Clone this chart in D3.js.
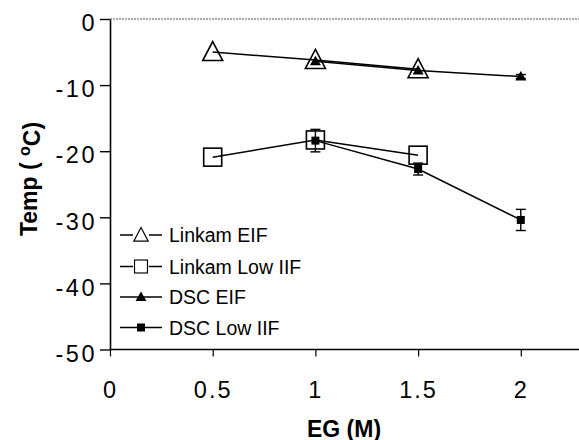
<!DOCTYPE html>
<html>
<head>
<meta charset="utf-8">
<script src="https://cdn.jsdelivr.net/npm/d3@7"></script>
<style>
  body { margin: 0; background: #fff; }
  svg { font-family: "Liberation Sans", Arial, sans-serif; }
</style>
</head>
<body>
<div id="chart"></div>
<script>
// values
var xTicks = [0, 0.5, 1, 1.5, 2];
var xTickLabels = ["0", "0.5", "1", "1.5", "2"];
var yTicks = [0, -10, -20, -30, -40, -50];
var yTickLabels = ["0", "-10", "-20", "-30", "-40", "-50"];

var linkamEIF = [{x: 0.5, y: -5.0}, {x: 1, y: -6.2}, {x: 1.5, y: -7.6}];
var linkamIIF = [{x: 0.5, y: -20.9}, {x: 1, y: -18.3}, {x: 1.5, y: -20.6}];
var dscEIF = [{x: 1, y: -6.4}, {x: 1.5, y: -7.8}, {x: 2, y: -8.7, e: 0.3}];
var dscIIF = [{x: 1, y: -18.4, e: 1.7}, {x: 1.5, y: -22.7, e: 0.9}, {x: 2, y: -30.4, e: 1.6}];

var legendNames = ["Linkam EIF", "Linkam Low IIF", "DSC EIF", "DSC Low IIF"];

var width = 579, height = 440;
var margin = { top: 19, left: 110, bottom: 90.5 };

var svg = d3.select("#chart").append("svg")
    .attr("width", width)
    .attr("height", height);

var x = d3.scaleLinear()
    .domain([0, 2.3])
    .range([margin.left, margin.left + 205.4 * 2.3]);

var y = d3.scaleLinear()
    .domain([-50, 0])
    .range([height - margin.bottom, margin.top]);

// dotted top border
svg.append("line")
    .attr("x1", margin.left).attr("x2", width)
    .attr("y1", y(0)).attr("y2", y(0))
    .attr("stroke", "#555")
    .attr("stroke-width", 1.2)
    .attr("stroke-dasharray", "2,1");

// y axis
var yAxis = svg.append("g")
    .attr("transform", "translate(" + margin.left + ",0)")
    .call(d3.axisLeft(y).tickValues(yTicks)
        .tickFormat(function(d, i) { return yTickLabels[i]; })
        .tickSize(10).tickSizeOuter(0).tickPadding(3));
yAxis.select(".domain").attr("stroke-width", 1.6);
yAxis.selectAll(".tick line").attr("stroke-width", 1.4);
yAxis.selectAll("text")
    .attr("dy", "0.5em")
    .style("font-size", "23.5px")
    .style("letter-spacing", "2.5px")
    .style("font-family", "Liberation Sans, Arial, sans-serif")
    .attr("fill", "#000");

// x axis
var xAxis = svg.append("g")
    .attr("transform", "translate(0," + y(-50) + ")")
    .call(d3.axisBottom(x).tickValues(xTicks)
        .tickFormat(function(d, i) { return xTickLabels[i]; })
        .tickSize(7).tickSizeOuter(0).tickPadding(25));
xAxis.select(".domain").attr("d", "M" + margin.left + ",0H" + width).attr("stroke-width", 1.6);
xAxis.selectAll(".tick line").attr("stroke-width", 1.2);
xAxis.selectAll("text")
    .style("font-size", "23.5px")
    .style("letter-spacing", "2px")
    .style("font-family", "Liberation Sans, Arial, sans-serif")
    .attr("fill", "#000");

// axis titles
svg.append("text")
    .attr("x", 344).attr("y", 436.5)
    .attr("text-anchor", "middle")
    .style("font-size", "23px")
    .style("font-weight", "bold")
    .text("EG (M)");

var yt = svg.append("text")
    .attr("transform", "translate(37,179) rotate(-90)")
    .attr("text-anchor", "middle")
    .style("font-size", "23px")
    .style("font-weight", "bold");
yt.append("tspan").text("Temp ( ");
yt.append("tspan").attr("dy", "-0.45em").style("font-size", "16px").text("o");
yt.append("tspan").attr("dy", "0.45em").text("C)");

var line = d3.line()
    .x(function(d) { return x(d.x); })
    .y(function(d) { return y(d.y); });

function drawMarker(g, type, cx, cy) {
    if (type == "openTri") {
        var s = 10;
        g.append("path")
            .attr("d", "M" + cx + "," + (cy - s * 1.05) + "L" + (cx + s) + "," + (cy + s * 0.85) + "L" + (cx - s) + "," + (cy + s * 0.85) + "Z")
            .attr("fill", "none").attr("stroke", "#000").attr("stroke-width", 1.6);
    } else if (type == "openSq") {
        g.append("rect")
            .attr("x", cx - 9).attr("y", cy - 9)
            .attr("width", 18).attr("height", 18)
            .attr("fill", "none").attr("stroke", "#000").attr("stroke-width", 1.6);
    } else if (type == "fillTri") {
        g.append("path")
            .attr("d", "M" + cx + "," + (cy - 5.5) + "L" + (cx + 5.5) + "," + (cy + 4) + "L" + (cx - 5.5) + "," + (cy + 4) + "Z")
            .attr("fill", "#000");
    } else {
        g.append("rect")
            .attr("x", cx - 4).attr("y", cy - 4)
            .attr("width", 8).attr("height", 8)
            .attr("fill", "#000");
    }
}

var series = [
    { data: linkamEIF, marker: "openTri" },
    { data: linkamIIF, marker: "openSq" },
    { data: dscEIF, marker: "fillTri" },
    { data: dscIIF, marker: "fillSq" }
];

series.forEach(function(s) {
    var g = svg.append("g");
    g.append("path")
        .datum(s.data)
        .attr("d", line)
        .attr("fill", "none")
        .attr("stroke", "#000")
        .attr("stroke-width", 1.5);

    // error bars
    s.data.filter(function(d) { return d.e; }).forEach(function(d) {
        var cx = x(d.x), y1 = y(d.y + d.e), y2 = y(d.y - d.e);
        g.append("line").attr("x1", cx).attr("x2", cx).attr("y1", y1).attr("y2", y2)
            .attr("stroke", "#000").attr("stroke-width", 1.4);
        [y1, y2].forEach(function(yy) {
            g.append("line").attr("x1", cx - 5).attr("x2", cx + 5).attr("y1", yy).attr("y2", yy)
                .attr("stroke", "#000").attr("stroke-width", 1.4);
        });
    });

    s.data.forEach(function(d) {
        drawMarker(g, s.marker, x(d.x), y(d.y));
    });
});

// legend
var legendY = [235, 266.5, 297, 327.5];
legendNames.forEach(function(name, i) {
    var g = svg.append("g");
    g.append("line")
        .attr("x1", 120).attr("x2", 162)
        .attr("y1", legendY[i]).attr("y2", legendY[i])
        .attr("stroke", "#000").attr("stroke-width", 1.5);
    var m = series[i].marker;
    if (m == "openTri" || m == "openSq") {
        // smaller open markers in the key
        var gg = g.append("g")
            .attr("transform", "translate(141," + legendY[i] + ") scale(0.72) translate(-141," + (-legendY[i]) + ")");
        gg.append("rect").attr("x", 130).attr("y", legendY[i] - 10).attr("width", 22).attr("height", 20).attr("fill", "#fff");
        drawMarker(gg, m, 141, legendY[i]);
    } else {
        drawMarker(g, m, 141, legendY[i]);
    }
    g.append("text")
        .attr("x", 169).attr("y", legendY[i])
        .attr("dy", "0.36em")
        .style("font-size", "19.5px")
        .text(name);
});
</script>
</body>
</html>
